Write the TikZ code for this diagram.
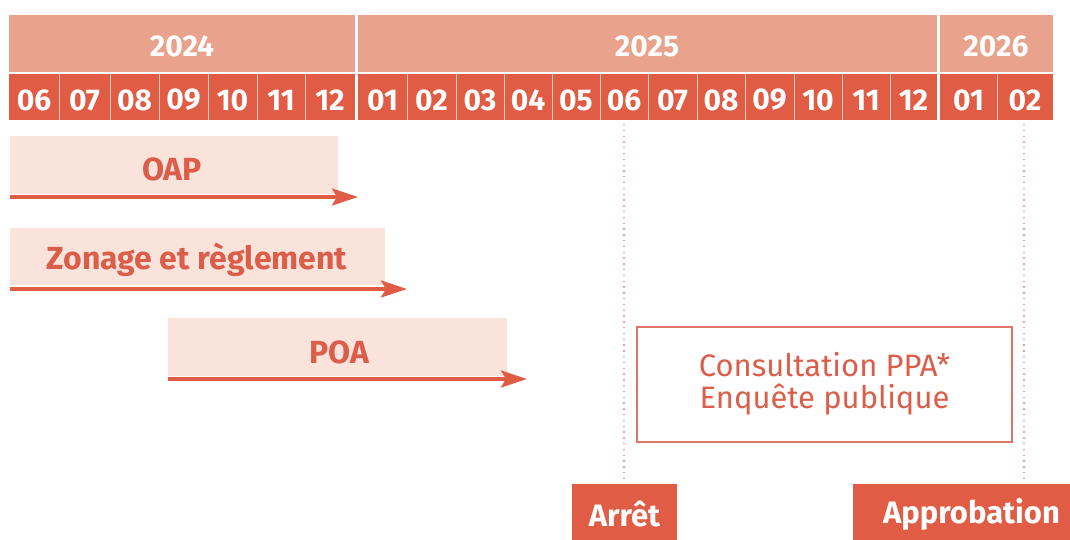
\documentclass[tikz,border=0pt]{standalone}
\usepackage{fontspec}
\setmainfont{Fira Sans}
\usetikzlibrary{arrows.meta}
\definecolor{yearc}{HTML}{E9A28C}
\definecolor{monthc}{HTML}{E05C45}
\definecolor{lightc}{HTML}{FAE3DB}
\definecolor{textc}{HTML}{DA5E4A}
\definecolor{boxc}{HTML}{E07466}
\definecolor{sepc}{HTML}{F6C9B8}
\definecolor{dotc}{HTML}{E8A0A0}
\begin{document}
\begin{tikzpicture}[x=1pt,y=-1pt,
  yearcell/.style={fill=yearc,draw=none},
  monthcell/.style={fill=monthc,draw=none},
  yearlbl/.style={text=white,font=\fontsize{30}{33}\selectfont\bfseries},
  monthlbl/.style={text=white,font=\fontsize{30}{33}\selectfont\bfseries},
  taskbox/.style={fill=lightc,draw=none},
  tasklbl/.style={text=textc,font=\fontsize{32}{36}\selectfont\bfseries},
  taskarrow/.style={draw=monthc,line width=3.7pt,-{Stealth[length=26pt,width=17pt,inset=5pt]}},
  milestone/.style={fill=monthc,draw=none,text=white,font=\fontsize{31}{34}\selectfont\bfseries},
  guide/.style={draw=dotc,line width=1.3pt,dash pattern=on 1.3pt off 4.5pt}
]
\useasboundingbox (0,0) rectangle (1070,540);
\fill[white] (0,0) rectangle (1070,540);
\begin{scope}
\clip (0,0) rectangle (1070,540);
% year band
\fill[yearcell] (9,15) rectangle (355,72);
\fill[yearcell] (358,15) rectangle (937,72);
\fill[yearcell] (940,15) rectangle (1053,72);
\node[yearlbl] (y24) at (182,46) {2024};
\node[yearlbl] (y25) at (647,46) {2025};
\node[yearlbl] (y26) at (996,46) {2026};
% month band
\fill[monthcell] (9,74) rectangle (355,120);
\fill[monthcell] (358,74) rectangle (937,120);
\fill[monthcell] (940,74) rectangle (1053,120);
\foreach \x in {59,110,159,208,257,305,407,456,504,552,600,648,697,745,794,842,890,997}
  \draw[sepc,line width=0.8pt] (\x,74) -- (\x,120);
\foreach \a/\b/\t [count=\i] in {9/59/06,59/110/07,110/159/08,159/208/09,208/257/10,257/305/11,305/355/12,
  358/407/01,407/456/02,456/504/03,504/552/04,552/600/05,600/648/06,648/697/07,697/745/08,745/794/09,794/842/10,842/890/11,890/937/12,
  940/997/01,997/1053/02}
  \node[monthlbl] (m\i) at ({(\a+\b)/2},100) {\t};
% guides
\coordinate (g1top) at (624,124);
\coordinate (g1bot) at (624,478);
\coordinate (g2top) at (1024,124);
\coordinate (g2bot) at (1024,478);
\draw[guide] (g1top) -- (g1bot);
\draw[guide] (g2top) -- (g2bot);
% tasks
\fill[taskbox] (10,136) rectangle (338,194);
\node[tasklbl] (oap) at (172,169) {OAP};
\coordinate (oapS) at (10,197);
\coordinate (oapE) at (358,197);
\draw[taskarrow] (oapS) -- (oapE);

\fill[taskbox] (10,228) rectangle (385,285);
\node[tasklbl] (zon) at (197,260) {Zonage et règlement};
\coordinate (zonS) at (10,289);
\coordinate (zonE) at (407,289);
\draw[taskarrow] (zonS) -- (zonE);

\fill[taskbox] (168,318) rectangle (507,376);
\node[tasklbl] (poa) at (339,352) {POA};
\coordinate (poaS) at (168,379);
\coordinate (poaE) at (527,379);
\draw[taskarrow] (poaS) -- (poaE);
% consultation
\node[draw=boxc,line width=2pt,minimum width=375pt,minimum height=115pt,inner sep=0pt,
  text=textc,align=center,font=\fontsize{31}{32}\selectfont] (cons) at (824.5,384)
  {Consultation PPA*\\Enquête publique};
% milestones
\node[milestone,minimum width=105pt,minimum height=60pt,inner sep=0pt] (arret) at (624.5,514) {Arrêt};
\node[milestone,minimum width=237pt,minimum height=60pt,inner sep=0pt] (appro) at (971.5,514) {Approbation};
\end{scope}
\end{tikzpicture}
\end{document}
